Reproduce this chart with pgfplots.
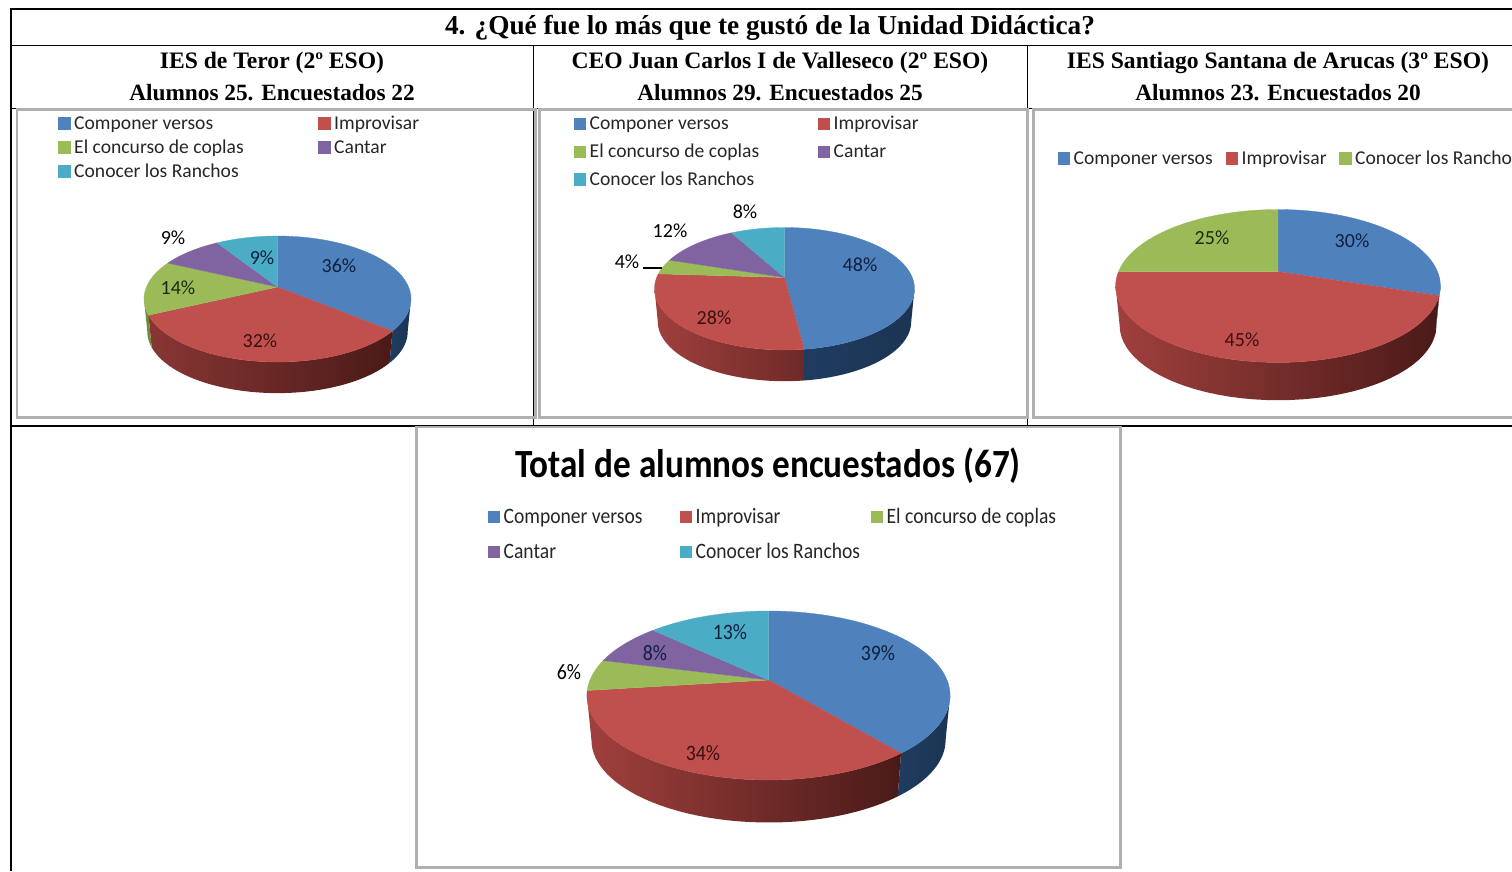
\documentclass[border=0pt]{standalone}
\usepackage{fontspec}
\usepackage{pgfplots}
\pgfplotsset{compat=1.18}
\newfontfamily\headfont{Liberation Serif}
\newfontfamily\chartfont{Carlito}

\definecolor{cblue}{HTML}{4F81BD}
\definecolor{cred}{HTML}{C0504D}
\definecolor{cgreen}{HTML}{9BBB59}
\definecolor{cpurple}{HTML}{8064A2}
\definecolor{ccyan}{HTML}{4BACC6}
\definecolor{wblueA}{HTML}{1F3C60}
\definecolor{wblueB}{HTML}{1B3452}
\definecolor{wredA}{HTML}{A0403D}
\definecolor{wredM}{HTML}{6E2A28}
\definecolor{wredB}{HTML}{4A1A18}
\definecolor{wgreen}{HTML}{6F8A3A}
\definecolor{framegray}{HTML}{B0B0B0}
\definecolor{ontext}{HTML}{10203F}
\definecolor{onred}{HTML}{3A1012}
\definecolor{ongreen}{HTML}{1C2A10}
\definecolor{legtext}{HTML}{262626}

% Perspective pie: apex cx,cy; rim reach up/down from apex; half width; wall height.
\newcommand\setpie[6]{%
  \def\cx{#1}\def\cy{#2}\def\ph{#6}%
  \pgfmathsetmacro\pb{2*#3*#4/(#3+#4)}%
  \pgfmathsetmacro\pk{\pb/#3-1}%
  \pgfmathsetmacro\pa{#5*sqrt(1-\pk*\pk)}%
  \pgfmathsetmacro\tv{acos(-\pk)}%
  \pgfmathsetmacro\tw{360-\tv}%
  \gdef\cum{0}%
}
\def\wallang{(\t<1 ? \lo+(\hi-\lo)*min(\t/0.975,1) : \hi-(\hi-\lo)*(\t-1))}
\def\topang{(\ao+(\ae-\ao)*\t)}
% One slice: share in percent, top colour, wall colours left and right.
\newcommand\slice[4]{%
  \pgfmathsetmacro\ao{\cum*3.6}%
  \pgfmathsetmacro\ae{(\cum+#1)*3.6}%
  \pgfmathsetmacro\newcum{\cum+#1}\xdef\cum{\newcum}%
  \pgfmathsetmacro\lo{max(\ao,\tv)}%
  \pgfmathsetmacro\hi{min(\ae,\tw)}%
  \pgfmathparse{\hi>\lo ? 1 : 0}%
  \ifdim\pgfmathresult pt>0.5pt
    \addplot[draw=none,left color=#3,right color=#4,variable=\t,domain=0:2,samples=81]
      ({\cx+(\t<1?1:0.975)*\pa*sin(\wallang)/(1+\pk*cos(\wallang))},
       {\cy-(\t<1?1:0.975)*\pb*cos(\wallang)/(1+\pk*cos(\wallang))+(\t<1?0:\ph)});
  \fi
  \addplot[draw=#2,line width=0.3pt,fill=#2,variable=\t,domain=-0.02:1,samples=52]
    ({\t<-0.01 ? \cx : \cx+\pa*sin(\topang)/(1+\pk*cos(\topang))},
     {\t<-0.01 ? \cy : \cy-\pb*cos(\topang)/(1+\pk*cos(\topang))});
}
\newcommand\legendkey[4]{%
  \addplot[only marks,mark=square*,mark size=5.8pt,mark options={draw=#1,fill=#1}] coordinates {(#2,#3)};
  \node[anchor=base west,inner sep=0pt,text=legtext,font=\chartfont\fontsize{19.6}{22}\selectfont] at (#2+10,#3+6) {#4};
}
\newcommand\legendkeyN[4]{%
  \addplot[only marks,mark=square*,mark size=5.6pt,mark options={draw=#1,fill=#1}] coordinates {(#2,#3)};
  \node[anchor=base west,inner sep=0pt,text=legtext,font=\chartfont\fontsize{22}{24}\selectfont,xscale=0.89] at (#2+10,#3+6) {#4};
}
\newcommand\pct[4][black]{\node[text=#1,inner sep=0pt,font=\chartfont\fontsize{20}{22}\selectfont] at (#2,#3) {#4\%};}
\newcommand\pctN[4][black]{\node[text=#1,inner sep=0pt,xscale=0.9,font=\chartfont\fontsize{22}{24}\selectfont] at (#2,#3) {#4\%};}
\newcommand\headtxt[4]{\node[anchor=base,inner sep=0pt,font=\headfont\bfseries\fontsize{#4}{#4}\selectfont] at (#1,#2) {#3};}

\begin{document}
\begin{tikzpicture}
\useasboundingbox (0,0) rectangle (1512pt,871pt);
\clip (0,0) rectangle (1512pt,871pt);
\begin{axis}[at={(0,0)},anchor=south west,width=1512pt,height=871pt,scale only axis,
  xmin=0,xmax=1512,ymin=0,ymax=871,y dir=reverse,hide axis,clip=false]

% Table rules
\draw[black,line width=2pt] (10,8.5) -- (1512,8.5);
\draw[black,line width=2pt] (10.5,8) -- (10.5,871);
\draw[black,line width=1.5pt] (10,45.5) -- (1512,45.5);
\draw[black,line width=1.5pt] (10,108.5) -- (1512,108.5);
\draw[black,line width=2pt] (10,425.5) -- (1512,425.5);
\draw[black,line width=1.5pt] (533.5,45) -- (533.5,425);
\draw[black,line width=1.5pt] (1027.5,45) -- (1027.5,425);

% Chart frames
\draw[framegray,line width=2.2pt] (17,109.5) rectangle (535.5,417.5);
\draw[framegray,line width=2.2pt] (539.5,109.5) rectangle (1027.5,417.5);
\draw[framegray,line width=2.2pt] (1520,109.5) -- (1033.5,109.5) -- (1033.5,417.5) -- (1520,417.5);
\draw[framegray,line width=2.2pt] (416.5,427) rectangle (1120.5,867.5);

% Headers
\headtxt{770}{34}{4. ¿Qué fue lo más que te gustó de la Unidad Didáctica?}{27.3}
\headtxt{272}{68}{IES de Teror (2º ESO)}{23.6}
\headtxt{272}{100}{Alumnos 25. Encuestados 22}{23.3}
\headtxt{780}{68}{CEO Juan Carlos I de Valleseco (2º ESO)}{23.6}
\headtxt{780}{100}{Alumnos 29. Encuestados 25}{23.3}
\headtxt{1278}{68}{IES Santiago Santana de Arucas (3º ESO)}{23.6}
\headtxt{1278}{100}{Alumnos 23. Encuestados 20}{23.3}

% IES de Teror
\setpie{277.5}{287}{51}{75}{133.5}{33}
\slice{36}{cblue}{wblueA}{wblueB}
\slice{32}{cred}{wredA!85!black}{wredB}
\slice{14}{cgreen}{wgreen}{wgreen}
\slice{9}{cpurple}{cpurple}{cpurple}
\slice{9}{ccyan}{ccyan}{ccyan}
\legendkey{cblue}{64}{123}{Componer versos}
\legendkey{cred}{324}{123}{Improvisar}
\legendkey{cgreen}{64}{147}{El concurso de coplas}
\legendkey{cpurple}{324}{147}{Cantar}
\legendkey{ccyan}{64}{171}{Conocer los Ranchos}
\pct[ontext]{339}{266}{36}
\pct[onred]{260}{341}{32}
\pct[ongreen]{178}{288}{14}
\pct{173}{238}{9}
\pct[ontext]{262}{258}{9}

% CEO Juan Carlos I
\setpie{784.5}{277.5}{50}{72.5}{130}{33}
\slice{48}{cblue}{wblueA}{wblueB}
\slice{28}{cred}{wredA}{wredM}
\slice{4}{cgreen}{wgreen}{wgreen}
\slice{12}{cpurple}{cpurple}{cpurple}
\slice{8}{ccyan}{ccyan}{ccyan}
\legendkey{cblue}{579.5}{123.5}{Componer versos}
\legendkey{cred}{823.5}{123.5}{Improvisar}
\legendkey{cgreen}{579.5}{151.5}{El concurso de coplas}
\legendkey{cpurple}{823.5}{151.5}{Cantar}
\legendkey{ccyan}{579.5}{179}{Conocer los Ranchos}
\pct[ontext]{860}{265}{48}
\pct[onred]{714}{318}{28}
\pct{627}{262}{4}
\pct{670}{231}{12}
\pct{745}{212}{8}
\draw[black,line width=1.2pt] (643,268) -- (662,268);

% IES Santiago Santana
\setpie{1278}{271.5}{62}{91}{162.4}{40}
\slice{30}{cblue}{wblueA}{wblueB}
\slice{45}{cred}{wredA}{wredB}
\slice{25}{cgreen}{wgreen}{wgreen}
\legendkey{cblue}{1063.5}{158}{Componer versos}
\legendkey{cred}{1231.5}{158}{Improvisar}
\legendkey{cgreen}{1345}{158}{Conocer los Rancho}
\pct[ontext]{1352}{241}{30}
\pct[onred]{1242}{340}{45}
\pct[ongreen]{1212}{238}{25}

% Total
\setpie{768.5}{680}{69}{100}{181.6}{45}
\slice{39}{cblue}{wblueA}{wblueB}
\slice{34}{cred}{wredA}{wredB}
\slice{6}{cgreen}{wgreen}{wgreen}
\slice{8}{cpurple}{cpurple}{cpurple}
\slice{13}{ccyan}{ccyan}{ccyan}
\node[anchor=base,inner sep=0pt,xscale=0.88,font=\chartfont\bfseries\fontsize{40}{44}\selectfont] at (768,477) {Total de alumnos encuestados (67)};
\legendkeyN{cblue}{493.5}{517}{Componer versos}
\legendkeyN{cred}{685.5}{517}{Improvisar}
\legendkeyN{cgreen}{876.5}{517}{El concurso de coplas}
\legendkeyN{cpurple}{493.5}{552}{Cantar}
\legendkeyN{ccyan}{685.5}{552}{Conocer los Ranchos}
\pctN[ontext]{878}{653}{39}
\pctN[onred]{703}{753}{34}
\pctN{569}{672}{6}
\pctN[ontext]{655}{653}{8}
\pctN[ontext]{730}{632}{13}
\end{axis}
\end{tikzpicture}
\end{document}
